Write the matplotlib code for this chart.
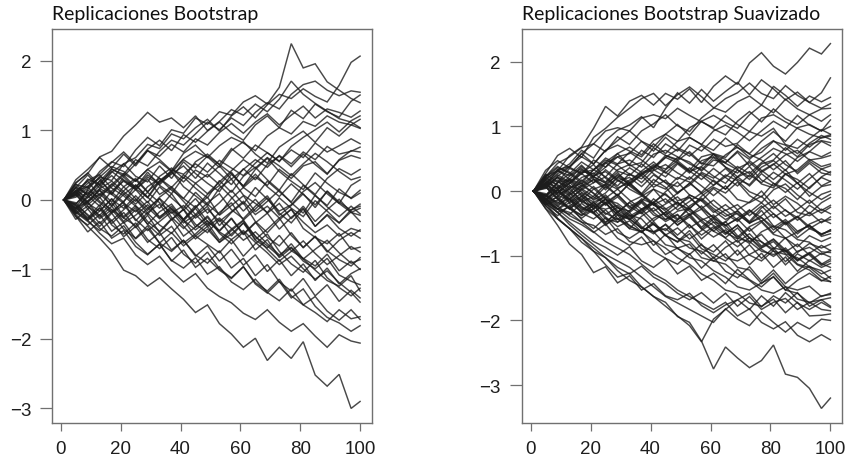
import numpy as np
import matplotlib
matplotlib.use("Agg")
import matplotlib.pyplot as plt

plt.rcParams["font.family"] = ["Liberation Sans", "DejaVu Sans"]

# time index of the points
steps = [1, 5, 9, 13, 17, 21, 25, 29, 33, 37, 41, 45, 49, 53, 57, 61, 65, 69, 73, 77, 81, 85, 89, 93, 97, 100]

# left panel, bootstrap replications (values in hundredths)
boot_reps = [
    [0, 22, 18, 41, 55, 48, 72, 90, 78, 101, 96, 118, 109, 127, 122, 141, 150, 138, 162, 225, 190, 196, 170, 158, 146, 140],
    [0, -12, 15, 33, 28, 52, 61, 80, 74, 95, 88, 104, 116, 99, 121, 134, 118, 137, 152, 146, 160, 149, 141, 165, 198, 207],
    [0, 25, 38, 62, 70, 92, 108, 126, 112, 118, 104, 121, 100, 113, 130, 122, 138, 127, 145, 171, 152, 139, 128, 117, 112, 104],
    [0, 8, 30, 22, 44, 37, 58, 49, 70, 86, 79, 95, 112, 101, 118, 107, 126, 140, 131, 152, 166, 171, 158, 150, 157, 155],
    [0, 18, 9, 27, 45, 34, 52, 71, 63, 80, 69, 88, 79, 97, 110, 96, 112, 124, 108, 122, 135, 118, 131, 126, 119, 128],
    [0, -6, 14, 3, 22, 38, 27, 44, 55, 41, 59, 70, 61, 78, 90, 82, 71, 92, 104, 95, 113, 106, 121, 112, 108, 116],
    [0, 12, -4, 16, 8, 29, 18, 36, 24, 43, 37, 52, 40, 57, 46, 35, 53, 68, 56, 72, 61, 82, 69, 78, 88, 81],
    [0, 14, 3, 21, 35, 19, 31, 12, 27, 40, 26, 43, 33, 49, 30, 44, 58, 47, 64, 52, 69, 58, 77, 66, 70, 76],
    [0, -14, 6, -9, 13, 27, 15, 30, 8, 19, 2, 24, 37, 22, 40, 18, 33, 21, 44, 31, 49, 55, 38, 57, 64, 60],
    [0, 9, -13, 4, -18, -2, 15, -4, 19, 3, -12, 11, -6, -21, 2, 18, 5, 27, 12, -3, 21, 6, -8, 16, 2, 10],
    [0, -19, -3, -25, -9, -31, -14, -35, -17, -6, -28, -11, 4, -22, -8, 6, -17, -2, 14, -4, -19, 7, -10, -24, -9, -20],
    [0, 23, 6, 28, 11, -3, 22, 4, -12, 9, -15, 2, -19, -4, 14, -6, 18, 1, -16, -7, 12, 25, 9, -5, 21, 29],
    [0, -8, -26, -7, -34, -18, -40, -22, -47, -28, -14, -39, -23, -45, -27, -50, -33, -19, -42, -25, -12, -38, -21, -33, -14, -9],
    [0, 13, 27, 6, 19, 36, 18, 40, 21, 9, 33, 17, 3, 28, 11, 34, 47, 29, 14, 38, 22, 8, 31, 45, 36, 44],
    [0, -24, -36, -21, -45, -32, -56, -41, -62, -47, -66, -52, -38, -61, -44, -30, -57, -42, -26, -51, -68, -53, -75, -58, -47, -55],
    [0, 6, 20, 31, 8, -5, -17, -2, -26, -9, -30, -12, -36, -18, -4, -29, -13, 3, -22, -8, 9, -11, 13, -3, -15, -6],
    [0, -13, 4, 16, 27, 12, -2, 19, 31, 14, 2, -11, 8, 21, 4, -16, 1, -19, -5, -27, -9, -31, -14, 1, -18, -22],
    [0, 18, 36, 17, 40, 52, 34, 26, 49, 31, 55, 38, 24, 12, 37, 20, 44, 60, 41, 27, 15, 39, 24, 11, 3, 14],
    [0, -7, -21, -38, -19, -42, -55, -37, -62, -74, -58, -81, -66, -88, -71, -94, -79, -103, -86, -109, -92, -116, -98, -121, -106, -99],
    [0, 12, -5, -16, 2, -24, -8, -31, -45, -27, -52, -39, -25, -48, -63, -46, -72, -57, -83, -69, -88, -99, -84, -108, -117, -122],
    [0, -18, -31, -44, -29, -53, -38, -61, -47, -72, -58, -79, -91, -73, -98, -84, -109, -93, -118, -131, -113, -138, -122, -146, -130, -141],
    [0, -11, -27, -12, -36, -49, -33, -57, -70, -54, -78, -91, -75, -99, -112, -96, -119, -131, -114, -138, -151, -162, -175, -158, -171, -168],
    [0, -17, -29, -48, -63, -55, -79, -93, -81, -102, -118, -106, -127, -139, -148, -163, -172, -158, -176, -189, -178, -196, -212, -194, -203, -206],
    [0, -21, -38, -55, -74, -101, -109, -124, -112, -128, -143, -162, -151, -178, -193, -212, -199, -231, -212, -228, -204, -252, -268, -251, -300, -290],
    [0, 11, 28, 37, 54, 69, 52, 73, 86, 71, 94, 83, 99, 112, 97, 86, 108, 121, 104, 129, 117, 138, 127, 119, 142, 151],
    [0, -12, -2, 9, -8, 13, 29, 11, 34, 46, 31, 55, 66, 51, 74, 60, 79, 68, 55, 77, 90, 101, 112, 98, 114, 121],
    [0, 7, -9, -22, -4, -26, -37, -18, -6, -29, -13, -35, -47, -28, -52, -33, -58, -69, -51, -73, -84, -95, -78, -102, -88, -100],
    [0, 24, 39, 21, 9, 33, 16, 4, 28, 41, 19, 6, -8, 17, 30, 7, -5, -18, 3, -12, -24, -1, -16, -33, -17, -31],
    [0, -28, -13, -34, -17, -3, -30, -12, 2, -25, -41, -23, -9, -37, -18, -4, -31, -47, -29, -13, -41, -54, -63, -48, -71, -68],
    [0, 17, -3, 14, -9, 8, 21, 3, 26, 37, 49, 31, 53, 38, 22, 45, 29, 51, 63, 48, 66, 51, 37, 58, 71, 69],
    [0, -9, -29, -11, -30, -14, 1, -19, -36, -48, -29, -52, -64, -76, -57, -81, -63, -49, -74, -92, -104, -87, -112, -126, -138, -127],
    [0, 8, 24, 36, 17, 6, -9, -21, 2, -13, -28, -8, -31, -44, -26, -49, -32, -54, -66, -47, -69, -52, -73, -86, -95, -83],
    [0, -16, -1, 14, -3, 19, 2, -15, 4, 17, -2, -21, -4, 9, -14, -27, -9, 6, -19, -33, -13, -38, -22, -41, -52, -43],
    [0, 29, 44, 61, 46, 66, 49, 71, 58, 42, 67, 79, 62, 47, 71, 84, 66, 53, 76, 88, 99, 83, 104, 92, 108, 103],
    [0, -4, -23, -41, -52, -37, -61, -78, -64, -87, -98, -83, -107, -96, -118, -129, -114, -133, -145, -128, -151, -139, -160, -173, -158, -172],
    [0, 13, 19, -2, -14, -26, -11, -35, -51, -38, -62, -49, -33, -58, -42, -29, -53, -66, -81, -63, -85, -101, -116, -124, -109, -131],
    [0, -23, -46, -31, -55, -44, -67, -79, -63, -88, -72, -97, -84, -101, -113, -96, -121, -134, -117, -141, -128, -153, -169, -177, -189, -181],
    [0, 4, 17, 33, 48, 41, 27, 44, 31, 18, 36, 24, 9, 26, 42, 58, 46, 61, 49, 35, 52, 67, 55, 41, 29, 33],
    [0, -6, 11, -4, -19, -7, -28, -44, -31, -17, -38, -56, -42, -61, -49, -33, -52, -71, -88, -74, -59, -77, -93, -80, -67, -75],
    [0, 19, 7, 24, 41, 28, 15, 33, 22, 39, 58, 46, 63, 51, 38, 20, 37, 19, 5, 23, 8, -7, 12, -5, -18, -12],
    [0, -15, -29, -16, 1, -12, 6, -11, -27, -14, -33, -21, -38, -26, -41, -58, -46, -63, -79, -68, -85, -71, -58, -76, -91, -86],
    [0, 10, -7, 8, 23, 9, -6, 11, -4, -19, -8, -26, -13, -31, -17, -2, -21, -9, -26, -14, -32, -47, -36, -52, -41, -45],
    [0, -20, -9, -27, -14, -33, -22, -7, -24, -12, -29, -43, -30, -46, -57, -44, -61, -76, -93, -81, -99, -114, -102, -119, -133, -147],
]

# right panel, smoothed bootstrap replications (values in hundredths)
smooth_reps = [
    [0, 24, 31, 55, 68, 97, 131, 116, 139, 148, 133, 151, 142, 158, 137, 162, 178, 165, 198, 214, 193, 181, 199, 221, 212, 228],
    [0, 13, 30, 42, 63, 51, 78, 94, 102, 115, 98, 128, 152, 136, 157, 139, 154, 168, 149, 172, 158, 141, 153, 137, 152, 175],
    [0, 27, 55, 66, 52, 83, 97, 114, 128, 143, 151, 132, 149, 161, 146, 129, 122, 138, 147, 133, 162, 148, 131, 147, 138, 145],
    [0, 9, 33, 38, 58, 73, 61, 84, 72, 93, 104, 118, 101, 92, 113, 128, 143, 152, 167, 151, 143, 163, 148, 137, 128, 135],
    [0, 32, 47, 36, 58, 42, 63, 78, 93, 77, 68, 88, 103, 86, 108, 117, 106, 97, 118, 133, 121, 142, 127, 118, 127, 128],
    [0, 4, 23, 37, 26, 48, 37, 58, 68, 56, 78, 88, 77, 98, 108, 96, 87, 108, 123, 107, 127, 112, 103, 118, 108, 118],
    [0, -7, 13, 18, 38, 22, 43, 53, 41, 63, 52, 73, 62, 83, 72, 93, 102, 91, 78, 93, 108, 97, 117, 102, 93, 110],
    [0, 17, 4, 12, 31, 26, 45, 58, 39, 44, 67, 55, 49, 71, 62, 80, 69, 74, 92, 85, 97, 72, 66, 81, 95, 88],
    [0, 12, -6, 3, 21, 28, 14, 33, 41, 29, 36, 55, 47, 61, 43, 39, 56, 68, 52, 60, 77, 71, 58, 74, 86, 80],
    [0, -14, 2, 19, 11, 24, 30, 16, 9, 26, 41, 34, 52, 45, 31, 48, 44, 60, 39, 52, 66, 58, 46, 61, 77, 70],
    [0, 21, 36, 29, 15, 33, 48, 40, 26, 19, 37, 52, 44, 30, 38, 57, 49, 35, 44, 29, 41, 56, 63, 48, 51, 55],
    [0, -18, -9, 8, 2, -14, -3, 16, 21, 7, 25, 13, -4, 12, 29, 20, 35, 18, 10, 31, 42, 26, 33, 49, 38, 42],
    [0, 6, -11, -27, -14, 3, 10, -7, 12, 24, 6, 17, -2, 9, 27, 15, 3, 22, 30, 11, 5, 26, 18, 4, 22, 30],
    [0, 19, 31, 24, 40, 22, 13, 29, 8, -6, 11, 3, 21, 14, -4, 9, 25, 16, -1, -9, 12, 4, -13, 6, 21, 15],
    [0, -21, -14, 5, 12, -4, -22, -9, -27, -16, 3, -6, -19, -28, -8, 6, -3, 14, -7, -18, 2, 11, -6, -19, -5, 0],
    [0, 11, 25, 14, -6, -17, -9, -26, -31, -12, -20, -37, -24, -6, -15, 4, -11, -29, -17, 0, -21, -8, -19, -35, -18, -10],
    [0, -9, 6, -8, -25, -33, -19, -36, -44, -28, -17, -31, -45, -23, -11, -27, -39, -31, -47, -26, -14, -30, -41, -22, -34, -25],
    [0, 26, 14, 35, 28, 41, 20, 5, 13, -4, 18, 6, -15, -9, -27, -14, -30, -21, -38, -23, -41, -29, -45, -33, -49, -40],
    [0, -12, -28, -36, -19, -33, -51, -42, -58, -39, -26, -44, -36, -57, -45, -62, -48, -30, -49, -41, -60, -47, -66, -51, -43, -50],
    [0, 9, 21, 2, -14, -27, -12, -30, -41, -33, -52, -61, -44, -35, -56, -40, -57, -71, -55, -46, -65, -49, -72, -58, -66, -62],
    [0, -16, -28, -13, -34, -43, -29, -48, -33, -55, -66, -51, -68, -52, -74, -58, -47, -69, -81, -63, -54, -73, -86, -69, -78, -72],
    [0, 12, -3, 17, 4, -9, -20, -6, -24, -35, -18, -39, -48, -37, -59, -43, -64, -74, -57, -79, -90, -72, -95, -81, -88, -82],
    [0, -6, -19, -3, -24, -35, -49, -32, -54, -63, -51, -69, -78, -61, -84, -94, -77, -99, -83, -104, -88, -109, -93, -87, -98, -92],
    [0, -23, -38, -22, -44, -58, -41, -64, -73, -61, -84, -67, -89, -98, -82, -104, -87, -76, -99, -108, -92, -114, -97, -108, -96, -102],
    [0, 7, -13, -28, -11, -34, -17, -43, -53, -64, -47, -68, -79, -66, -89, -98, -108, -91, -114, -96, -118, -102, -124, -107, -118, -112],
    [0, -12, -28, -43, -52, -64, -51, -73, -84, -71, -93, -104, -113, -97, -119, -102, -124, -134, -117, -139, -122, -143, -127, -116, -128, -122],
    [0, -18, -33, -48, -63, -78, -87, -99, -86, -108, -118, -104, -128, -116, -138, -127, -143, -121, -137, -148, -132, -153, -138, -127, -139, -132],
    [0, -27, -43, -58, -73, -88, -103, -118, -128, -116, -133, -143, -158, -168, -157, -173, -158, -178, -163, -183, -172, -166, -183, -172, -183, -185],
    [0, -12, -33, -52, -68, -83, -98, -108, -118, -133, -148, -163, -173, -183, -193, -203, -182, -198, -208, -187, -203, -218, -203, -213, -198, -200],
    [0, -22, -43, -58, -73, -93, -103, -123, -138, -148, -163, -178, -193, -208, -233, -198, -183, -168, -183, -162, -178, -157, -173, -183, -172, -180],
    [0, -7, -23, -38, -48, -63, -78, -88, -98, -113, -128, -138, -153, -163, -173, -183, -172, -193, -182, -203, -213, -202, -223, -233, -222, -230],
    [0, -18, -42, -58, -79, -93, -114, -133, -127, -148, -163, -172, -194, -203, -232, -275, -241, -258, -273, -262, -238, -283, -288, -305, -336, -320],
    [0, -27, -53, -82, -98, -126, -117, -142, -131, -153, -143, -162, -168, -158, -177, -188, -176, -168, -158, -179, -162, -173, -157, -178, -168, -165],
    [0, 14, 3, -12, 2, 13, 22, 8, 27, 13, 32, 41, 28, 18, 37, 23, 12, 33, 18, 37, 47, 32, 52, 61, 53, 60],
    [0, -11, -24, -6, 7, 18, 2, 21, 12, -4, -19, -1, 14, -6, -15, -33, -21, -36, -49, -30, -54, -60, -75, -79, -94, -95],
    [0, 22, 8, -3, 17, 4, -13, -19, -33, -18, -37, -44, -31, -27, -42, -53, -67, -52, -73, -78, -93, -98, -114, -122, -138, -140],
    [0, -7, 13, 27, 12, 33, 44, 31, 24, 42, 27, 13, 7, 22, 8, -7, 8, -13, -18, -8, -27, -12, -33, -38, -28, -35],
    [0, 11, 27, 38, 53, 42, 63, 71, 62, 53, 73, 58, 77, 83, 72, 63, 82, 67, 58, 77, 92, 77, 98, 103, 93, 100],
    [0, -17, -28, -18, -8, -27, -12, -33, -17, -8, 3, -18, -3, 12, -2, 17, 3, 22, 8, 27, 12, -2, 13, -8, 7, 10],
    [0, 7, -3, 12, 28, 33, 22, 42, 48, 37, 57, 63, 53, 42, 33, 52, 37, 22, 38, 17, 8, 27, 12, -2, -13, -5],
    [0, -22, -8, -27, -42, -28, -48, -33, -18, -33, -12, -27, -43, -27, -48, -62, -72, -57, -78, -93, -98, -92, -113, -118, -133, -140],
    [0, 12, -7, -13, -33, -22, -43, -48, -37, -58, -63, -83, -88, -82, -103, -108, -97, -118, -122, -143, -127, -148, -153, -147, -163, -158],
    [0, -12, 3, -17, -3, -23, -28, -22, -37, -43, -63, -52, -73, -88, -93, -108, -113, -128, -138, -153, -158, -148, -167, -172, -168, -178],
    [0, 7, 22, 13, 33, 22, 12, 3, 17, 28, 12, 33, 47, 32, 53, 58, 52, 72, 57, 48, 33, 47, 27, 43, 28, 25],
    [0, -7, -17, -27, -38, -27, -18, -37, -43, -58, -42, -33, -53, -37, -28, -48, -52, -73, -78, -67, -88, -92, -108, -97, -113, -105],
    [0, 17, 33, 18, 8, 22, 37, 53, 58, 77, 62, 83, 67, 58, 42, 57, 37, 28, 47, 32, 18, 33, 12, 27, 8, 15],
    [0, -12, -27, -33, -48, -53, -67, -58, -78, -83, -77, -98, -88, -103, -108, -123, -133, -148, -153, -142, -133, -153, -158, -173, -162, -160],
    [0, 22, 43, 53, 67, 73, 93, 98, 93, 113, 118, 112, 128, 117, 107, 98, 117, 103, 92, 113, 118, 107, 97, 88, 82, 85],
    [0, -17, -3, 12, 27, 13, 33, 18, 3, -7, -22, -28, -17, -37, -23, -42, -53, -43, -62, -48, -67, -73, -63, -53, -67, -60],
    [0, 7, 17, -2, -17, -23, -13, -33, -43, -57, -63, -58, -73, -78, -97, -83, -103, -108, -98, -88, -78, -97, -103, -117, -123, -135],
    [0, -7, 7, 17, -2, -12, 7, -7, 12, 27, 33, 22, 42, 28, 47, 53, 43, 33, 22, 42, 48, 67, 53, 72, 78, 75],
    [0, 12, -2, -12, -27, -33, -53, -37, -58, -63, -77, -88, -103, -113, -128, -138, -153, -158, -173, -178, -167, -188, -172, -193, -192, -190],
    [0, -9, 14, 6, -17, -8, 11, 24, 10, -5, -21, -12, -29, -16, -3, -22, -35, -47, -30, -41, -56, -44, -62, -53, -70, -66],
    [0, 16, 4, 23, 35, 19, 8, 26, 14, 31, 45, 29, 18, 36, 24, 9, 22, 38, 27, 44, 58, 41, 30, 46, 34, 39],
    [0, -4, -21, -11, -29, -18, -36, -25, -44, -30, -19, -37, -52, -40, -58, -71, -60, -79, -66, -85, -74, -91, -106, -95, -112, -118],
    [0, 19, 10, -6, 9, -3, -18, -5, -24, -14, -31, -20, -9, -26, -13, -30, -44, -34, -50, -38, -23, -39, -28, -14, -30, -22],
    [0, -15, 1, -13, 4, 18, 5, 21, 36, 24, 39, 28, 44, 31, 18, 35, 21, 8, 25, 13, 29, 17, 3, 19, 34, 28],
    [0, 8, -12, -26, -37, -22, -40, -55, -46, -63, -50, -68, -57, -74, -61, -48, -65, -53, -72, -87, -75, -94, -82, -99, -115, -108],
    [0, -19, -33, -24, -8, -21, -6, -25, -39, -28, -46, -33, -17, -31, -45, -37, -54, -42, -29, -47, -35, -52, -40, -58, -47, -44],
    [0, 23, 38, 27, 45, 33, 51, 42, 60, 48, 34, 52, 65, 54, 70, 57, 44, 62, 49, 66, 78, 63, 80, 68, 83, 87],
    [0, -13, 2, -19, -31, -17, -34, -44, -30, -16, -33, -47, -37, -53, -68, -55, -73, -86, -72, -90, -101, -88, -107, -96, -84, -92],
    [0, 5, 21, 9, -8, 7, -11, 3, -14, -28, -17, -4, -22, -10, -27, -41, -29, -45, -33, -18, -35, -50, -39, -55, -68, -60],
]

titles = ["Replicaciones Bootstrap", "Replicaciones Bootstrap Suavizado"]
x_ticks = [0, 20, 40, 60, 80, 100]
y_ticks = [-3, -2, -1, 0, 1, 2]

line_color = "#1c1c1c"
frame_color = "#707070"

fig = plt.figure(figsize=(8.56, 4.64), dpi=100)
panels = [
    (fig.add_axes([0.0607, 0.0862, 0.3738, 0.8491]), boot_reps),
    (fig.add_axes([0.6095, 0.0862, 0.3745, 0.8491]), smooth_reps),
]

for (ax, reps), title in zip(panels, titles):
    for rep in reps:
        ax.plot(steps, np.array(rep) / 100.0, color=line_color, lw=1.05,
                alpha=0.8, solid_joinstyle="miter")
    # R-style 4% padding around the data
    ax.margins(x=0.04, y=0.04)
    ax.set_xticks(x_ticks)
    ax.set_yticks(y_ticks)
    for side in ax.spines.values():
        side.set_color(frame_color)
        side.set_linewidth(1.0)
    ax.tick_params(axis="x", length=5.5, width=0.9, color=frame_color, pad=7,
                   labelsize=13.5, labelcolor="#1e1e1e")
    ax.tick_params(axis="y", length=9, width=0.9, color=frame_color, pad=6,
                   labelsize=13.5, labelcolor="#1e1e1e")
    pos = ax.get_position()
    fig.text(pos.x0, 1 - 20 / 464, title, ha="left", va="baseline",
             fontsize=14, family="Lato", color="#111111")

fig.savefig("out.png", dpi=100)
